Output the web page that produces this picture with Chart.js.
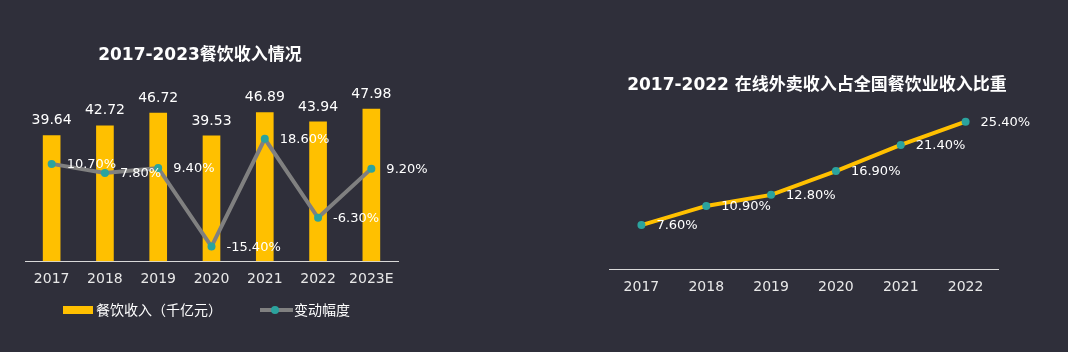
<!DOCTYPE html>
<html><head><meta charset="utf-8">
<script src="https://cdn.jsdelivr.net/npm/chart.js@4.4.0/dist/chart.umd.min.js"></script>
<style>
html,body{margin:0;padding:0;background:#2F2F3A;}
#wrap{position:relative;width:1068px;height:352px;overflow:hidden;background:#2F2F3A;font-family:"DejaVu Sans","Noto Sans CJK SC",sans-serif;}
canvas{position:absolute;top:0;}
.title{position:absolute;color:#fff;font-weight:bold;font-size:17px;white-space:nowrap;transform:translate(-50%,-50%);line-height:1;}
.lg{position:absolute;color:#fff;font-size:14px;white-space:nowrap;line-height:1;transform:translateY(-50%);}
.box{position:absolute;background:#FFC000;}
.ln{position:absolute;background:#808080;}
.dot{position:absolute;background:#2BA39E;border-radius:50%;}
</style></head>
<body>
<div id="wrap">
  <canvas id="c1" width="430" height="352" style="left:0"></canvas>
  <canvas id="c2" width="488" height="352" style="left:580px"></canvas>
  <div class="title" style="left:200px;top:54px">2017-2023餐饮收入情况</div>
  <div class="title" style="left:817px;top:84px">2017-2022 在线外卖收入占全国餐饮业收入比重</div>
  <div class="box" style="left:63px;top:306px;width:30px;height:8px"></div>
  <div class="lg" style="left:96px;top:310px">餐饮收入（千亿元）</div>
  <div class="ln" style="left:260px;top:308px;width:33px;height:4px"></div>
  <div class="dot" style="left:271px;top:306px;width:8px;height:8px"></div>
  <div class="lg" style="left:294px;top:310px">变动幅度</div>
</div>
<script>
const revenueYears = ['2017','2018','2019','2020','2021','2022','2023E'];
const revenueValues = [39.64, 42.72, 46.72, 39.53, 46.89, 43.94, 47.98];
const revenueChange = [10.7, 7.8, 9.4, -15.4, 18.6, -6.3, 9.2];
const shareYears = ['2017','2018','2019','2020','2021','2022'];
const shareValues = [7.6, 10.9, 12.8, 16.9, 21.4, 25.4];

const FONT = "'DejaVu Sans','Noto Sans CJK SC',sans-serif";
Chart.defaults.font.family = FONT;

const valueLabels = {
  id: 'valueLabels',
  afterDatasetsDraw(chart) {
    const ctx = chart.ctx;
    chart.data.datasets.forEach((ds, i) => {
      const meta = chart.getDatasetMeta(i);
      if (!ds.labelMode) return;
      meta.data.forEach((el, j) => {
        const v = ds.data[j];
        ctx.save();
        ctx.fillStyle = '#ffffff';
        if (ds.labelMode === 'bar') {
          ctx.font = '14px ' + FONT;
          ctx.textAlign = 'center';
          ctx.textBaseline = 'middle';
          ctx.fillText(v.toFixed(2), el.x, el.y - 15);
        } else {
          ctx.font = '13px ' + FONT;
          ctx.textAlign = 'left';
          ctx.textBaseline = 'middle';
          ctx.fillText(v.toFixed(2) + '%', el.x + 15, el.y + 1);
        }
        ctx.restore();
      });
    });
  }
};

const tickStyle = {color: '#e8e8e8', font: {size: 14}, padding: 10};

new Chart(document.getElementById('c1'), {
  type: 'bar',
  data: {
    labels: revenueYears,
    datasets: [
      {type: 'bar', label: '餐饮收入（千亿元）', data: revenueValues, backgroundColor: '#FFC000',
       barThickness: 17, yAxisID: 'y', order: 2, labelMode: 'bar'},
      {type: 'line', label: '变动幅度', data: revenueChange, borderColor: '#808080', borderWidth: 4,
       pointBackgroundColor: '#2BA39E', pointBorderColor: '#2BA39E', pointRadius: 4, pointBorderWidth: 0,
       tension: 0, yAxisID: 'y2', order: 1, labelMode: 'line'}
    ]
  },
  options: {
    responsive: false, animation: false, devicePixelRatio: 1,
    layout: {padding: {left: 25, right: 32, top: 71, bottom: 54}},
    plugins: {legend: {display: false}, title: {display: false}, tooltip: {enabled: false}},
    scales: {
      x: {grid: {display: false, drawTicks: false}, border: {display: true, color: '#d9d9d9', width: 1}, ticks: tickStyle},
      y: {display: false, min: 0, max: 60},
      y2: {display: false, min: -20, max: 40}
    }
  },
  plugins: [valueLabels]
});

new Chart(document.getElementById('c2'), {
  type: 'line',
  data: {
    labels: shareYears,
    datasets: [
      {label: '占比', data: shareValues, borderColor: '#FFC000', borderWidth: 4,
       pointBackgroundColor: '#2BA39E', pointBorderColor: '#2BA39E', pointRadius: 4, pointBorderWidth: 0,
       tension: 0, labelMode: 'line'}
    ]
  },
  options: {
    responsive: false, animation: false, devicePixelRatio: 1,
    layout: {padding: {left: 29, right: 70, top: 95, bottom: 46}},
    plugins: {legend: {display: false}, title: {display: false}, tooltip: {enabled: false}},
    scales: {
      x: {offset: true, grid: {display: false, drawTicks: false}, border: {display: true, color: '#d9d9d9', width: 1}, ticks: tickStyle},
      y: {display: false, min: 0, max: 30}
    }
  },
  plugins: [valueLabels]
});
</script>
</body></html>
